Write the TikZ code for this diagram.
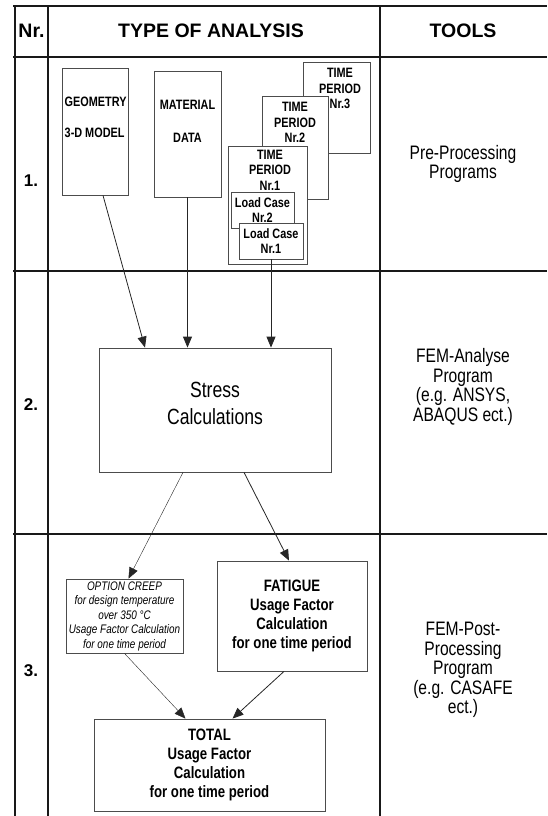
\documentclass[tikz,border=0pt]{standalone}
\usepackage{fontspec}
\setmainfont{Liberation Sans}
\newfontfamily\narrowfont[FakeStretch=0.8]{Liberation Sans}
\usetikzlibrary{positioning,calc,arrows.meta}

\tikzset{
  gridline/.style={line width=1.4pt, draw=black!90},
  box/.style={draw=black!70, line width=0.8pt, fill=white, inner sep=0pt},
  boxtext/.style={align=center, inner sep=0pt, font=\narrowfont\fontsize{13.6}{15.5}\selectfont\bfseries},
  resultbox/.style={box, align=center, font=\narrowfont\fontsize{16.5}{19}\selectfont\bfseries},
  flow/.style={draw=black!85, line width=0.8pt, -{Triangle[length=11pt,width=9pt]}},
  thinflow/.style={flow, line width=0.4pt},
  tool/.style={align=center, font=\narrowfont\fontsize{19.5}{19.5}\selectfont},
  rownr/.style={font=\fontsize{17}{20}\selectfont\bfseries},
  head/.style={font=\fontsize{19.5}{22}\selectfont\bfseries},
}

\begin{document}
\begin{tikzpicture}[x=1pt, y=-1pt]
    \useasboundingbox (0,0) rectangle (547,816);

    % Table
    \draw[gridline] (13,6) -- (547,6);
    \draw[gridline] (13,57) -- (547,57);
    \draw[gridline] (13,271) -- (547,271);
    \draw[gridline] (13,534) -- (547,534);
    \draw[gridline] (15,6) -- (15,816);
    \draw[gridline] (48,6) -- (48,816);
    \draw[gridline] (380,6) -- (380,816);

    \node[head] (hnr) at (31.5,31) {Nr.};
    \node[head] (htype) at (211,31) {TYPE OF ANALYSIS};
    \node[head] (htools) at (463,31) {TOOLS};

    \node[rownr] (nr1) at (31,181) {1.};
    \node[rownr] (nr2) at (31,405) {2.};
    \node[rownr] (nr3) at (31,671) {3.};

    \node[tool] (tool1) at (463,164) {Pre-Processing\\Programs};
    \node[tool] (tool2) at (463,387) {FEM-Analyse\\Program\\(e.g. ANSYS,\\ABAQUS ect.)};
    \node[tool] (tool3) at (463,670) {FEM-Post-\\Processing\\Program\\(e.g. CASAFE\\ect.)};

    % Pre-processing input
    \node[box, minimum width=66, minimum height=127] (geo) at (95,131.5) {};
    \node[boxtext, align=left, anchor=west] at (64.5,117.5) {GEOMETRY\\[15pt]3-D MODEL};
    \node[box, minimum width=67, minimum height=126] (mat) at (187.5,134) {};
    \node[boxtext] at (187.5,121.5) {MATERIAL\\[17pt]DATA};

    \node[box, minimum width=67, minimum height=91] (tp3) at (336.5,107.5) {};
    \node[boxtext] at (340,88.5) {TIME\\PERIOD\\Nr.3};
    \node[box, minimum width=66, minimum height=103] (tp2) at (295,147.5) {};
    \node[boxtext] at (295,122.5) {TIME\\PERIOD\\Nr.2};
    \node[box, minimum width=79, minimum height=118] (tp1) at (267.5,205) {};
    \node[boxtext] at (270,170) {TIME\\PERIOD\\Nr.1};
    \node[box, boxtext, draw=black!70, fill=white, minimum width=63, minimum height=36] (lc2) at (262.5,210) {Load Case\\Nr.2};
    \node[box, boxtext, draw=black!70, fill=white, minimum width=64, minimum height=36] (lc1) at (271,241) {Load Case\\Nr.1};

    % FEM analysis
    \node[box, align=center, minimum width=232, minimum height=124,
          font=\narrowfont\fontsize{22}{27}\selectfont] (stress) at (215,410) {Stress\\Calculations\\[-14pt]};

    % Post-processing
    \node[box, align=center, minimum width=117, minimum height=74,
          font=\narrowfont\fontsize{12.4}{14.5}\selectfont\itshape] (creep) at (124.5,616)
          {OPTION CREEP\\for design temperature\\over 350 °C\\Usage Factor Calculation\\for one time period};
    \node[resultbox, minimum width=150, minimum height=110] (fatigue) at (292,616)
          {FATIGUE\\Usage Factor\\Calculation\\for one time period};
    \node[resultbox, minimum width=231, minimum height=92] (total) at (209.5,765)
          {TOTAL\\Usage Factor\\Calculation\\for one time period};

    % Connectors
    \draw[flow] ([xshift=8]geo.south) -- ([xshift=-70]stress.north);
    \draw[flow] (mat.south) -- (mat.south |- stress.north);
    \draw[flow] (lc1.south) -- (lc1.south |- stress.north);
    \draw[thinflow] ([xshift=-32]stress.south) -- ([xshift=4]creep.north);
    \draw[flow] ([xshift=29]stress.south) -- ([xshift=-3]fatigue.north);
    \draw[thinflow] (creep.south) -- ([xshift=-24]total.north);
    \draw[flow] ([xshift=-8]fatigue.south) -- ([xshift=23]total.north);
\end{tikzpicture}
\end{document}
